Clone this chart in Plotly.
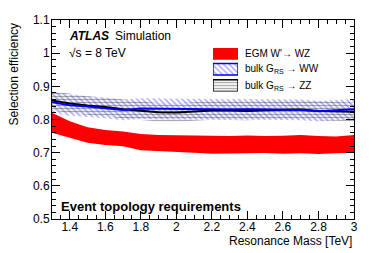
import plotly.graph_objects as go

mass = [1.3, 1.4, 1.5, 1.6, 1.7, 1.8, 1.9, 2.0, 2.1, 2.2, 2.3, 2.4, 2.5, 2.6, 2.7, 2.8, 2.9, 3.0]

# EGM W' -> WZ band
wz_lo = [0.760, 0.745, 0.730, 0.723, 0.719, 0.707, 0.703, 0.702, 0.700, 0.697, 0.696, 0.698, 0.699, 0.697, 0.698, 0.696, 0.698, 0.700]
wz_hi = [0.820, 0.795, 0.777, 0.768, 0.764, 0.756, 0.753, 0.752, 0.752, 0.750, 0.750, 0.752, 0.750, 0.751, 0.753, 0.750, 0.749, 0.753]

# bulk G_RS -> WW (central value and band half-width)
ww_c = [0.852, 0.843, 0.839, 0.835, 0.829, 0.833, 0.832, 0.831, 0.830, 0.830, 0.830, 0.831, 0.830, 0.830, 0.829, 0.825, 0.827, 0.831]
ww_err = [0.032, 0.032, 0.031, 0.031, 0.031, 0.031, 0.031, 0.031, 0.031, 0.031, 0.031, 0.031, 0.031, 0.031, 0.031, 0.031, 0.031, 0.031]

# bulk G_RS -> ZZ (central value and band half-width)
zz_c = [0.857, 0.848, 0.842, 0.838, 0.831, 0.826, 0.822, 0.821, 0.824, 0.827, 0.827, 0.826, 0.828, 0.830, 0.830, 0.826, 0.824, 0.823]
zz_err = [0.029, 0.029, 0.028, 0.028, 0.028, 0.028, 0.028, 0.028, 0.028, 0.028, 0.028, 0.028, 0.028, 0.028, 0.028, 0.028, 0.028, 0.028]

labels = ["EGM W'\u2192 WZ", "bulk G<sub>RS</sub> \u2192 WW", "bulk G<sub>RS</sub> \u2192 ZZ"]

x_ticks = [1.4, 1.6, 1.8, 2.0, 2.2, 2.4, 2.6, 2.8, 3.0]
x_ticktext = ["1.4", "1.6", "1.8", "2", "2.2", "2.4", "2.6", "2.8", "3"]
y_ticks = [0.5, 0.6, 0.7, 0.8, 0.9, 1.0, 1.1]
y_ticktext = ["0.5", "0.6", "0.7", "0.8", "0.9", "1", "1.1"]

FONT = "Liberation Sans, Arial, Helvetica, sans-serif"

WW_PATTERN = dict(shape="\\", fgcolor="rgb(70,70,255)", size=4, solidity=0.35)
ZZ_PATTERN = dict(shape="-", fgcolor="rgb(85,85,85)", size=3, solidity=0.45)


def band(x, lo, hi):
    return list(x) + list(x)[::-1], list(hi) + list(lo)[::-1]


fig = go.Figure()

# WZ band (solid red)
bx, by = band(mass, wz_lo, wz_hi)
fig.add_trace(go.Scatter(x=bx, y=by, fill="toself", mode="lines",
                         line=dict(width=0, color="red"),
                         fillcolor="rgb(255,0,0)", showlegend=False, hoverinfo="skip"))

# WW band (blue hatch)
ww_lo = [c - e for c, e in zip(ww_c, ww_err)]
ww_hi = [c + e for c, e in zip(ww_c, ww_err)]
bx, by = band(mass, ww_lo, ww_hi)
fig.add_trace(go.Scatter(x=bx, y=by, fill="toself", mode="lines",
                         line=dict(width=0, color="blue"),
                         fillcolor="rgba(0,0,0,0)",
                         fillpattern=dict(bgcolor="rgba(0,0,0,0)", **WW_PATTERN),
                         showlegend=False, hoverinfo="skip"))

# ZZ band (gray horizontal hatch)
zz_lo = [c - e for c, e in zip(zz_c, zz_err)]
zz_hi = [c + e for c, e in zip(zz_c, zz_err)]
bx, by = band(mass, zz_lo, zz_hi)
fig.add_trace(go.Scatter(x=bx, y=by, fill="toself", mode="lines",
                         line=dict(width=0, color="black"),
                         fillcolor="rgba(0,0,0,0)",
                         fillpattern=dict(bgcolor="rgba(0,0,0,0)", **ZZ_PATTERN),
                         showlegend=False, hoverinfo="skip"))

# central lines
fig.add_trace(go.Scatter(x=mass, y=zz_c, mode="lines", line=dict(color="black", width=2),
                         showlegend=False, hoverinfo="skip"))
fig.add_trace(go.Scatter(x=mass, y=ww_c, mode="lines", line=dict(color="blue", width=2),
                         showlegend=False, hoverinfo="skip"))

# ---- legend swatches, drawn in a small auxiliary axis box (legend geometry) ----
sw_x = [0, 1, 1, 0, 0]
sw_rows = [(33, 45), (17, 29), (0, 12)]
sw_styles = [
    dict(fillcolor="red", line=dict(width=0, color="red")),
    dict(fillcolor="rgba(0,0,0,0)", line=dict(width=1.5, color="blue"),
         fillpattern=dict(bgcolor="white", **WW_PATTERN)),
    dict(fillcolor="rgba(0,0,0,0)", line=dict(width=1.5, color="black"),
         fillpattern=dict(bgcolor="white", **ZZ_PATTERN)),
]
for (y0, y1), st in zip(sw_rows, sw_styles):
    fig.add_trace(go.Scatter(x=sw_x, y=[y0, y0, y1, y1, y0], xaxis="x2", yaxis="y2",
                             fill="toself", mode="lines", showlegend=False, hoverinfo="skip", **st))

axis_common = dict(showline=True, linecolor="black", linewidth=1, mirror="allticks",
                   ticks="inside", ticklen=8, tickcolor="black", tickwidth=1,
                   showgrid=False, zeroline=False, tickmode="array", ticklabeloverflow="allow",
                   tickfont=dict(family=FONT, size=12, color="black"))

fig.update_layout(
    xaxis=dict(range=[1.3, 3.0], tickvals=x_ticks, ticktext=x_ticktext, ticklabelstandoff=-3,
               minor=dict(tick0=0, dtick=0.05, ticks="inside", ticklen=4, tickcolor="black", showgrid=False),
               **axis_common),
    yaxis=dict(range=[0.5, 1.1], tickvals=y_ticks, ticktext=y_ticktext, ticklabelstandoff=-1,
               minor=dict(tick0=0, dtick=0.02, ticks="inside", ticklen=4, tickcolor="black", showgrid=False),
               **axis_common),
    xaxis2=dict(domain=[0.533, 0.616], range=[0, 1], visible=False, fixedrange=True),
    yaxis2=dict(domain=[0.641, 0.859], range=[0, 45], visible=False, fixedrange=True, anchor="x2"),
)

text_font = dict(family=FONT, size=12, color="black")
leg_font = dict(family=FONT, size=10, color="black")
annots = [
    dict(x=0.0497, y=0.922, text="<b><i>ATLAS</i></b>", xanchor="left", yanchor="middle", font=text_font),
    dict(x=0.202, y=0.922, text="Simulation", xanchor="left", yanchor="middle", font=text_font),
    dict(x=0.0497, y=0.835, text="\u221As = 8 TeV", xanchor="left", yanchor="middle", font=text_font),
    dict(x=0.023, y=0.063, text="<b>Event topology requirements</b>", xanchor="left", yanchor="middle",
         font=dict(family=FONT, size=13, color="black")),
    dict(x=1.0, y=-0.11, text="Resonance Mass [TeV]", xanchor="right", yanchor="middle", font=text_font),
    dict(x=-0.126, y=1.0, text="Selection efficiency", textangle=-90, xanchor="center", yanchor="top",
         font=text_font),
    dict(x=0.633, y=0.830, text=labels[0], xanchor="left", yanchor="middle", font=leg_font),
    dict(x=0.633, y=0.752, text=labels[1], xanchor="left", yanchor="middle", font=leg_font),
    dict(x=0.633, y=0.670, text=labels[2], xanchor="left", yanchor="middle", font=leg_font),
]
for a in annots:
    a.update(xref="paper", yref="paper", showarrow=False)

# page body has an 8px margin, so the plot box is shifted up/left by 8px to compensate
fig.update_layout(
    width=374, height=253,
    margin=dict(l=44, r=28, t=5, b=42),
    paper_bgcolor="white", plot_bgcolor="white",
    annotations=annots,
    showlegend=False,
    font=dict(family=FONT),
)

fig.write_html("out.html")
